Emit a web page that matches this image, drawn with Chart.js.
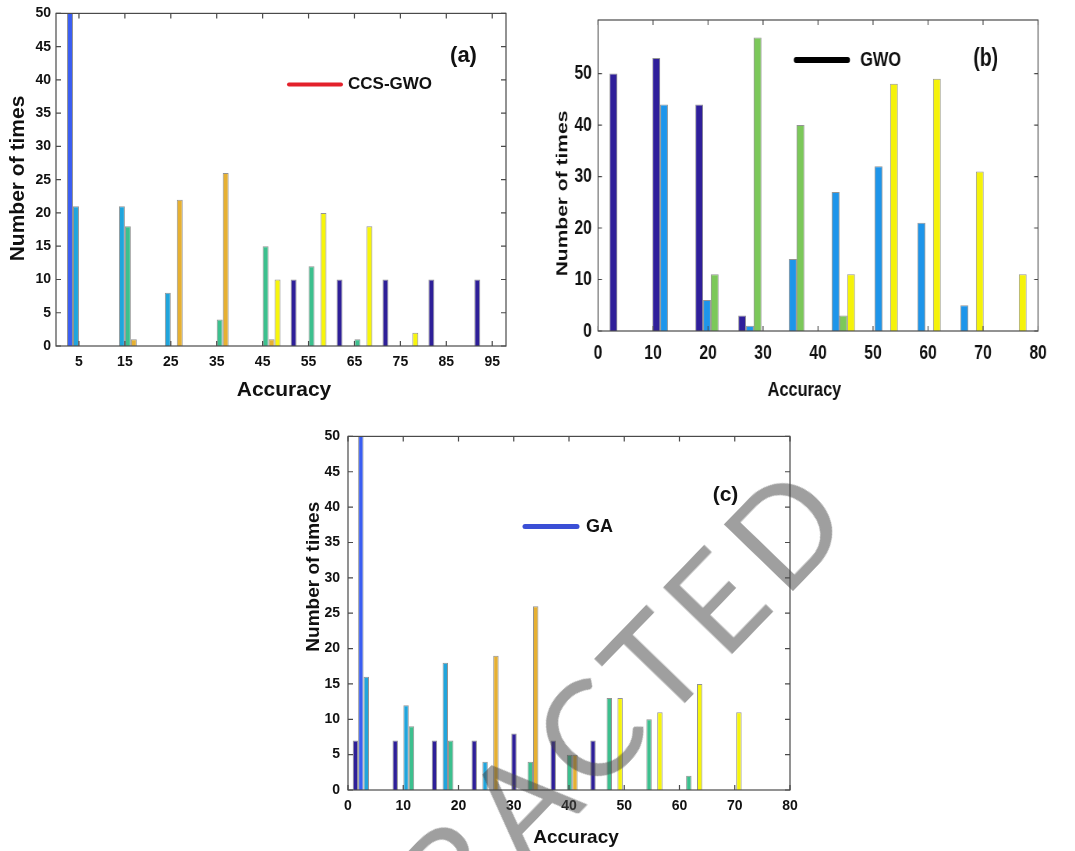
<!DOCTYPE html>
<html>
<head>
<meta charset="utf-8">
<script src="https://cdn.jsdelivr.net/npm/chart.js@4.4.0/dist/chart.umd.min.js"></script>
<title>Accuracy histograms</title>
<style>
  body { margin: 0; background: #fff; width: 1075px; height: 851px; overflow: hidden; position: relative; }
  .panel { position: absolute; }
  #wrapB { transform: scaleX(0.78); transform-origin: 0 0; }
  #wm {
    position: absolute; left: 530px; top: 790px;
    transform: translate(-50%, -50%) rotate(-46deg);
    font: 400 134px Lato, "Liberation Sans", sans-serif; line-height: 1; letter-spacing: 10px;
    color: rgba(70, 70, 70, 0.52); white-space: nowrap; pointer-events: none;
  }
</style>
</head>
<body>
<div class="panel" style="left:0;top:0"><canvas id="chartA" width="520" height="410"></canvas></div>
<div class="panel" id="wrapB" style="left:540px;top:0"><canvas id="chartB" width="686" height="410"></canvas></div>
<div class="panel" style="left:290px;top:420px"><canvas id="chartC" width="540" height="431"></canvas></div>
<div id="wm">RETRACTED</div>
<script>
// (a) CCS-GWO
const xCatsA = [5, 15, 25, 35, 45, 55, 65, 75, 85, 95];
const xTicksA = [5, 15, 25, 35, 45, 55, 65, 75, 85, 95];
const yTicksA = [0, 5, 10, 15, 20, 25, 30, 35, 40, 45, 50];
const navyA   = [null, null, null, null, null, 10, 10, 10, 10, 10];
const blueA   = [60, null, null, null, null, null, null, null, null, null];
const cyanA   = [21, 21, 8, null, null, null, null, null, null, null];
const greenA  = [null, 18, null, 4, 15, 12, 1, null, null, null];
const orangeA = [null, 1, 22, 26, 1, null, null, null, null, null];
const yellowA = [null, null, null, null, 10, 20, 18, 2, null, null];

// (b) GWO
const xCatsB = [4.9, 12.7, 20.5, 28.3, 36.1, 43.9, 51.7, 59.5, 67.3, 75.1];
const xTicksB = [0, 10, 20, 30, 40, 50, 60, 70, 80];
const yTicksB = [0, 10, 20, 30, 40, 50];
const navyB   = [50, 53, 44, 3, null, null, null, null, null, null];
const blueB   = [null, 44, 6, 1, 14, 27, 32, 21, 5, null];
const greenB  = [null, null, 11, 57, 40, 3, null, null, null, null];
const yellowB = [null, null, null, null, null, 11, 48, 49, 31, 11];

// (c) GA
const xCatsC = [3.8, 11.0, 18.1, 25.3, 32.5, 39.6, 46.8, 54.0, 61.2, 68.3];
const xTicksC = [0, 10, 20, 30, 40, 50, 60, 70, 80];
const yTicksC = [0, 5, 10, 15, 20, 25, 30, 35, 40, 45, 50];
const navyC   = [7, 7, 7, 7, 8, 7, 7, null, null, null];
const blueC   = [60, null, null, null, null, null, null, null, null, null];
const cyanC   = [16, 12, 18, 4, null, null, null, null, null, null];
const greenC  = [null, 9, 7, null, 4, 5, 13, 10, 2, null];
const orangeC = [null, null, null, 19, 26, 5, null, null, null, null];
const yellowC = [null, null, null, null, null, null, 13, 11, 15, 11];

const FONT = '"Liberation Sans", Arial, sans-serif';

function series(xs, ys, color) {
  return {
    data: xs.map((x, i) => ({ x: x, y: ys[i] })),
    backgroundColor: color,
    borderColor: 'rgba(40,40,40,0.5)',
    borderWidth: 1,
    barPercentage: 1.0
  };
}

// box, inward ticks, legend line, panel label and axis titles
const decor = {
  id: 'decor',
  afterDraw(chart, args, o) {
    const { ctx, chartArea: a, scales } = chart;
    const x = scales.x, y = scales.y;
    ctx.save();
    ctx.strokeStyle = '#4a4a4a';
    ctx.lineWidth = 1.2;
    ctx.strokeRect(a.left, a.top, a.right - a.left, a.bottom - a.top);
    ctx.beginPath();
    x.ticks.forEach(t => {
      const px = x.getPixelForValue(t.value);
      ctx.moveTo(px, a.bottom); ctx.lineTo(px, a.bottom - 5);
      ctx.moveTo(px, a.top); ctx.lineTo(px, a.top + 5);
    });
    y.ticks.forEach(t => {
      const py = y.getPixelForValue(t.value);
      ctx.moveTo(a.left, py); ctx.lineTo(a.left + 5, py);
      ctx.moveTo(a.right, py); ctx.lineTo(a.right - 5, py);
    });
    ctx.stroke();

    // legend
    ctx.lineCap = 'round';
    ctx.strokeStyle = o.legendColor;
    ctx.lineWidth = o.legendWidth;
    ctx.beginPath();
    ctx.moveTo(a.left + o.legendLine[0], a.top + o.legendLine[2]);
    ctx.lineTo(a.left + o.legendLine[1], a.top + o.legendLine[2]);
    ctx.stroke();

    ctx.fillStyle = '#111';
    ctx.textBaseline = 'middle';
    ctx.textAlign = 'left';
    ctx.font = 'bold ' + o.legendSize + 'px ' + FONT;
    ctx.fillText(o.legendText, a.left + o.legendTextPos[0], a.top + o.legendTextPos[1]);

    ctx.textAlign = 'center';
    ctx.font = 'bold ' + o.labelSize + 'px ' + FONT;
    ctx.fillText(o.label, a.left + o.labelPos[0], a.top + o.labelPos[1]);

    // axis titles
    ctx.font = 'bold ' + o.xTitleSize + 'px ' + FONT;
    ctx.fillText('Accuracy', o.xTitlePos[0], o.xTitlePos[1]);
    ctx.translate(o.yTitlePos[0], o.yTitlePos[1]);
    ctx.rotate(-Math.PI / 2);
    ctx.font = 'bold ' + o.yTitleSize + 'px ' + FONT;
    ctx.fillText('Number of times', 0, 0);
    ctx.restore();
  }
};

function makeChart(id, datasets, cfg) {
  return new Chart(document.getElementById(id), {
    type: 'bar',
    data: { datasets: datasets },
    plugins: [decor],
    options: {
      responsive: false,
      animation: false,
      devicePixelRatio: 1,
      layout: { padding: { top: cfg.padTop, right: cfg.padRight, left: 0, bottom: 0 } },
      datasets: { bar: { categoryPercentage: cfg.catPct, barPercentage: 1.0 } },
      plugins: { legend: { display: false }, tooltip: { enabled: false }, decor: cfg.decor },
      scales: {
        x: {
          type: 'linear', offset: false, min: cfg.xMin, max: cfg.xMax,
          grid: { display: false, drawTicks: false, tickLength: 0 },
          border: { display: false },
          afterBuildTicks: s => { s.ticks = cfg.xTicks.map(v => ({ value: v })); },
          afterFit: s => { s.height = cfg.xAxisH; },
          ticks: { padding: cfg.xPad, color: '#111', maxRotation: 0, autoSkip: false,
                   font: { family: FONT, size: cfg.tickSize, weight: 'bold' } }
        },
        y: {
          min: 0, max: cfg.yMax,
          grid: { display: false, drawTicks: false, tickLength: 0 },
          border: { display: false },
          afterBuildTicks: s => { s.ticks = cfg.yTicks.map(v => ({ value: v })); },
          afterFit: s => { s.width = cfg.yAxisW; },
          ticks: { padding: cfg.yPad, color: '#111',
                   font: { family: FONT, size: cfg.tickSize, weight: 'bold' } }
        }
      }
    }
  });
}

makeChart('chartA', [
  series(xCatsA, navyA, '#2e1f98'),
  series(xCatsA, blueA, '#3a5ef2'),
  series(xCatsA, cyanA, '#20a5dc'),
  series(xCatsA, greenA, '#3cc08e'),
  series(xCatsA, orangeA, '#e6b032'),
  series(xCatsA, yellowA, '#f7f50c')
], {
  padTop: 12, padRight: 14, xAxisH: 64, yAxisW: 56, xPad: 8, yPad: 5, tickSize: 14,
  catPct: 0.78, xMin: 0, xMax: 98, yMax: 50, xTicks: xTicksA, yTicks: yTicksA,
  decor: {
    legendColor: '#e3212b', legendWidth: 4, legendLine: [233, 285, 71],
    legendText: 'CCS-GWO', legendTextPos: [292, 71], legendSize: 17,
    label: '(a)', labelPos: [407.5, 43], labelSize: 22,
    xTitlePos: [284, 390], xTitleSize: 21, yTitlePos: [18.5, 178.5], yTitleSize: 21
  }
});

makeChart('chartB', [
  series(xCatsB, navyB, '#2f1f9a'),
  series(xCatsB, blueB, '#1e95ea'),
  series(xCatsB, greenB, '#7cc85a'),
  series(xCatsB, yellowB, '#f5f20a')
], {
  padTop: 13, padRight: 47.5, xAxisH: 79, yAxisW: 74.4, xPad: 10, yPad: 8, tickSize: 20,
  catPct: 0.72, xMin: 0, xMax: 80, yMax: 60.4, xTicks: xTicksB, yTicks: yTicksB,
  decor: {
    legendColor: '#000000', legendWidth: 6, legendLine: [254, 320, 40],
    legendText: 'GWO', legendTextPos: [336, 40], legendSize: 21,
    label: '(b)', labelPos: [497, 39], labelSize: 25,
    xTitlePos: [339, 390], xTitleSize: 21, yTitlePos: [29.5, 193.5], yTitleSize: 21
  }
});

makeChart('chartC', [
  series(xCatsC, navyC, '#2e1f98'),
  series(xCatsC, blueC, '#3a5ef2'),
  series(xCatsC, cyanC, '#20a5dc'),
  series(xCatsC, greenC, '#3cc08e'),
  series(xCatsC, orangeC, '#e6b032'),
  series(xCatsC, yellowC, '#f7f50c')
], {
  padTop: 13, padRight: 40, xAxisH: 61, yAxisW: 58, xPad: 8, yPad: 8, tickSize: 14,
  catPct: 0.83, xMin: 0, xMax: 80, yMax: 50, xTicks: xTicksC, yTicks: yTicksC,
  decor: {
    legendColor: '#3b4fd6', legendWidth: 5, legendLine: [177, 229, 90],
    legendText: 'GA', legendTextPos: [238, 91], legendSize: 18,
    label: '(c)', labelPos: [377.5, 59], labelSize: 21,
    xTitlePos: [286, 418], xTitleSize: 19, yTitlePos: [24, 156.7], yTitleSize: 19
  }
});
</script>
</body>
</html>
